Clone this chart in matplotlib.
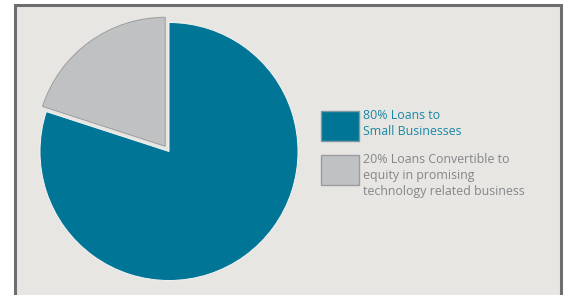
import matplotlib.pyplot as plt
from matplotlib.patches import Rectangle

# Data
shares = [80, 20]
labels = ["80% Loans to\nSmall Businesses",
          "20% Loans Convertible to\nequity in promising\ntechnology related business"]
colors = ["#007596", "#c0c1c3"]
edge_colors = ["#f4f4f2", "#9c9da0"]
text_colors = ["#1b87a7", "#85868a"]
explode = [0, 0.05]

W, H = 567, 295
fig = plt.figure(figsize=(W / 100, H / 100), dpi=100)
fig.patch.set_facecolor("white")

# panel frame (open at bottom)
frame = Rectangle((15 / W, -0.05), (561 - 15) / W, (H - 5) / H + 0.05,
                  transform=fig.transFigure, facecolor="#e7e6e2",
                  edgecolor="#6d6e71", linewidth=2.2, zorder=-5)
fig.patches.append(frame)

cx, cy, R = 169, H - 151.5, 129
ax = fig.add_axes([(cx - R) / W, (cy - R) / H, 2 * R / W, 2 * R / H])
ax.set_zorder(2)
wedges, _ = ax.pie(shares, colors=colors, startangle=90, counterclock=False,
                   explode=explode,
                   wedgeprops=dict(linewidth=0.7))
for w, ec in zip(wedges, edge_colors):
    w.set_edgecolor(ec)
    w.set_clip_on(False)
ax.set_xlim(-1, 1)
ax.set_ylim(-1, 1)
ax.set_aspect("auto")
ax.axis("off")

# legend
sw_x, sw_w, sw_h = 321, 38, 30
sw_tops = [111, 155]
for top, c, ec, lab, tc in zip(sw_tops, colors, ["#7f98a3", "#9c9da0"], labels, text_colors):
    fig.patches.append(Rectangle((sw_x / W, (H - top - sw_h) / H), sw_w / W, sw_h / H,
                                 transform=fig.transFigure, facecolor=c,
                                 edgecolor=ec, linewidth=1.0, zorder=1))
    fig.text(363 / W, (H - top + 2) / H, lab, color=tc, fontsize=8.9,
             family="Open Sans", va="top", ha="left", linespacing=1.3)

fig.savefig("out.png", dpi=100, facecolor=fig.get_facecolor())
